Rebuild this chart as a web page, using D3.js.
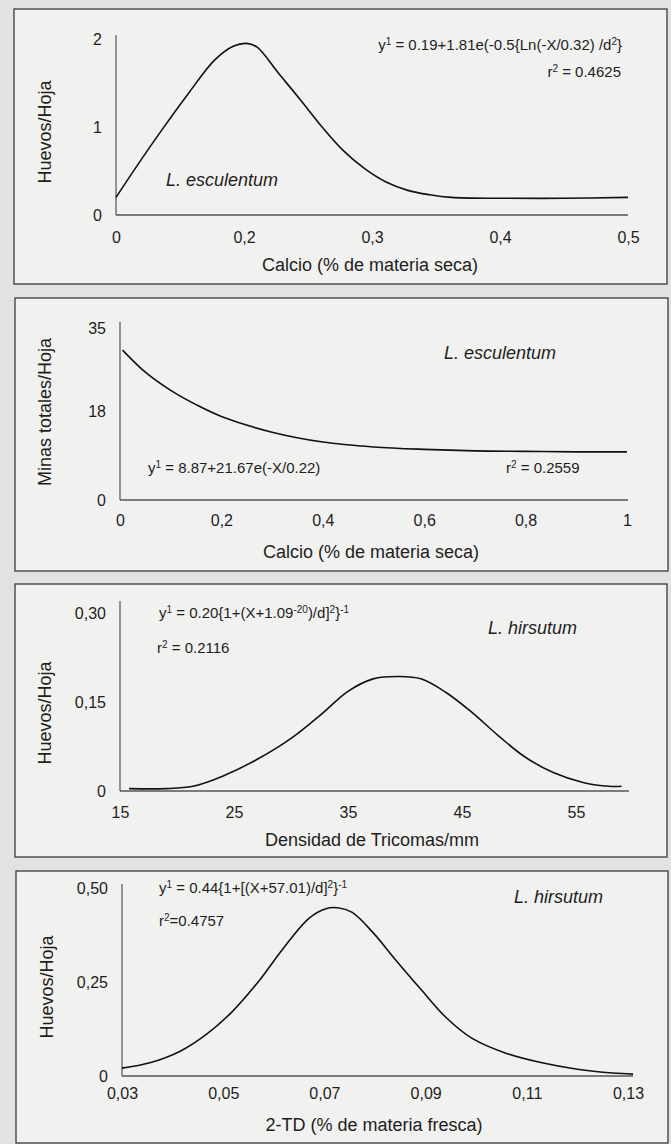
<!DOCTYPE html>
<html>
<head>
<meta charset="utf-8">
<script src="https://cdn.jsdelivr.net/npm/d3@7"></script>
<style>
  body { margin: 0; background: #e2e2e0; }
  svg { display: block; font-family: "Liberation Sans", Arial, sans-serif; }
</style>
</head>
<body>
<script>
// Panel 1: eggs per leaf vs calcium (L. esculentum)
const calcioX = [0.1, 0.116, 0.136, 0.157, 0.177, 0.192, 0.202, 0.21, 0.227, 0.244, 0.261, 0.277, 0.294, 0.311, 0.328, 0.345, 0.362, 0.4, 0.45, 0.5];
const huevosCaY = [0.2, 0.55, 0.97, 1.39, 1.76, 1.92, 1.95, 1.91, 1.61, 1.31, 1.0, 0.74, 0.53, 0.375, 0.28, 0.23, 0.2, 0.19, 0.19, 0.2];
const ticks1X = [0.1, 0.2, 0.3, 0.4, 0.5];
const labels1X = ["0", "0,2", "0,3", "0,4", "0,5"];
const ticks1Y = [0, 1, 2];

// Panel 2: total mines per leaf vs calcium (L. esculentum)
const calcio2X = [0.005, 0.05, 0.1, 0.15, 0.2, 0.3, 0.4, 0.5, 0.6, 0.7, 0.8, 0.9, 1.0];
const minasY = [30.5, 26.0, 22.3, 19.4, 17.0, 13.8, 11.8, 10.8, 10.3, 10.0, 9.9, 9.8, 9.8];
const ticks2X = [0, 0.2, 0.4, 0.6, 0.8, 1];
const labels2X = ["0", "0,2", "0,4", "0,6", "0,8", "1"];
const ticks2Y = [0, 18, 35];

// Panel 3: eggs per leaf vs trichome density (L. hirsutum)
const tricomasX = [15.8, 19, 21.4, 24, 27, 30.1, 32.7, 35, 37.2, 39.5, 41.4, 43.6, 45.9, 48.2, 50.4, 53, 55.7, 57.9, 59];
const huevosTrY = [0.004, 0.004, 0.008, 0.025, 0.053, 0.09, 0.13, 0.168, 0.189, 0.193, 0.189, 0.166, 0.132, 0.093, 0.059, 0.031, 0.014, 0.008, 0.008];
const ticks3X = [15, 25, 35, 45, 55];
const labels3X = ["15", "25", "35", "45", "55"];
const ticks3Y = [0, 0.15, 0.30];
const labels3Y = ["0", "0,15", "0,30"];

// Panel 4: eggs per leaf vs 2-TD (L. hirsutum)
const tdX = [0.03, 0.0355, 0.0415, 0.0466, 0.0517, 0.0569, 0.0619, 0.067, 0.0703, 0.0729, 0.0755, 0.0797, 0.084, 0.0891, 0.0941, 0.0992, 0.106, 0.113, 0.12, 0.127, 0.131];
const huevosTdY = [0.021, 0.035, 0.066, 0.11, 0.17, 0.25, 0.34, 0.42, 0.445, 0.447, 0.435, 0.38, 0.31, 0.23, 0.155, 0.10, 0.06, 0.035, 0.018, 0.008, 0.005];
const ticks4X = [0.03, 0.05, 0.07, 0.09, 0.11, 0.13];
const labels4X = ["0,03", "0,05", "0,07", "0,09", "0,11", "0,13"];
const ticks4Y = [0, 0.25, 0.50];
const labels4Y = ["0", "0,25", "0,50"];

const W = 671, H = 1144;
const svg = d3.select("body").append("svg").attr("width", W).attr("height", H);

// writes "a^{b}c" as text with raised tspans
function richText(sel, str) {
  const parts = str.split(/(\^\{[^}]*\})/);
  let raised = false;
  parts.forEach(p => {
    if (!p) return;
    if (p.startsWith("^{")) {
      sel.append("tspan").attr("dy", raised ? 0 : -5).attr("font-size", 10).text(p.slice(2, -1));
      raised = true;
    } else {
      sel.append("tspan").attr("dy", raised ? 5 : 0).text(p);
      raised = false;
    }
  });
}

const panels = [
  {
    box: [14, 9, 667, 284], xd: [0.1, 0.5], xr: [116, 628], yd: [0, 2], yr: [215, 39], yTop: 35, xEnd: 628,
    xs: calcioX, ys: huevosCaY, tx: ticks1X, tlx: labels1X, ty: ticks1Y, tly: ticks1Y.map(String), padX: 17,
    ylab: "Huevos/Hoja", ylabPos: [45, 132], xlab: "Calcio (% de materia seca)", xlabPos: [370, 265],
    species: "L. esculentum", spPos: [166, 180, "start"],
    eq: "y^{1} = 0.19+1.81e(-0.5{Ln(-X/0.32) /d^{2}}", eqPos: [622, 50, "end"],
    r2: "r^{2} = 0.4625", r2Pos: [621, 77, "end"]
  },
  {
    box: [15, 298, 668, 571], xd: [0, 1], xr: [120, 627], yd: [0, 35], yr: [500, 328], yTop: 322, xEnd: 628,
    xs: calcio2X, ys: minasY, tx: ticks2X, tlx: labels2X, ty: ticks2Y, tly: ticks2Y.map(String), padX: 15,
    ylab: "Minas totales/Hoja", ylabPos: [45, 412], xlab: "Calcio (% de materia seca)", xlabPos: [371, 552],
    species: "L. esculentum", spPos: [444, 353, "start"],
    eq: "y^{1} = 8.87+21.67e(-X/0.22)", eqPos: [148, 473, "start"],
    r2: "r^{2} = 0.2559", r2Pos: [506, 473, "start"]
  },
  {
    box: [15, 584, 667, 857], xd: [15, 55], xr: [120, 576], yd: [0, 0.30], yr: [791, 613], yTop: 601, xEnd: 629,
    xs: tricomasX, ys: huevosTrY, tx: ticks3X, tlx: labels3X, ty: ticks3Y, tly: labels3Y, padX: 16,
    ylab: "Huevos/Hoja", ylabPos: [45, 713], xlab: "Densidad de Tricomas/mm", xlabPos: [372, 840],
    species: "L. hirsutum", spPos: [488, 628, "start"],
    eq: "y^{1} = 0.20{1+(X+1.09^{-20})/d]^{2}}^{-1}", eqPos: [159, 618, "start"],
    r2: "r^{2} = 0.2116", r2Pos: [157, 653, "start"]
  },
  {
    box: [16, 871, 668, 1143], xd: [0.03, 0.13], xr: [122, 628], yd: [0, 0.5], yr: [1076, 888], yTop: 884, xEnd: 633,
    xs: tdX, ys: huevosTdY, tx: ticks4X, tlx: labels4X, ty: ticks4Y, tly: labels4Y, padX: 12,
    ylab: "Huevos/Hoja", ylabPos: [47, 987], xlab: "2-TD (% de materia fresca)", xlabPos: [374, 1125],
    species: "L. hirsutum", spPos: [514, 897, "start"],
    eq: "y^{1} = 0.44{1+[(X+57.01)/d]^{2}}^{-1}", eqPos: [159, 893, "start"],
    r2: "r^{2}=0.4757", r2Pos: [159, 926, "start"]
  }
];

panels.forEach(p => {
  const g = svg.append("g");
  const [bx0, by0, bx1, by1] = p.box;

  // frame
  g.append("rect")
    .attr("x", bx0).attr("y", by0)
    .attr("width", bx1 - bx0).attr("height", by1 - by0)
    .attr("fill", "#f1f1ef").attr("stroke", "#3a3a3a").attr("stroke-width", 1.3);

  const x = d3.scaleLinear().domain(p.xd).range(p.xr);
  const y = d3.scaleLinear().domain(p.yd).range(p.yr);

  // axis lines
  g.append("line")
    .attr("x1", x(p.xd[0])).attr("x2", x(p.xd[0]))
    .attr("y1", y(0)).attr("y2", p.yTop)
    .attr("stroke", "#444").attr("stroke-width", 1.1);
  g.append("line")
    .attr("x1", x(p.xd[0])).attr("x2", p.xEnd)
    .attr("y1", y(0)).attr("y2", y(0))
    .attr("stroke", "#555").attr("stroke-width", 1.4);

  // tick labels
  const xa = g.append("g")
    .attr("transform", `translate(0,${y(0)})`)
    .call(d3.axisBottom(x).tickValues(p.tx).tickSize(0).tickPadding(p.padX)
      .tickFormat((d, i) => p.tlx[i]));
  const ya = g.append("g")
    .attr("transform", `translate(${x(p.xd[0])},0)`)
    .call(d3.axisLeft(y).tickValues(p.ty).tickSize(0).tickPadding(14)
      .tickFormat((d, i) => p.tly[i]));
  [xa, ya].forEach(a => {
    a.select(".domain").remove();
    a.attr("font-family", null);
    a.selectAll("text").attr("font-size", 16).attr("fill", "#1e1e1e");
  });

  // fitted curve
  const pts = p.xs.map((d, i) => [d, p.ys[i]]);
  g.append("path")
    .datum(pts)
    .attr("fill", "none").attr("stroke", "#111").attr("stroke-width", 1.6)
    .attr("d", d3.line().x(d => x(d[0])).y(d => y(d[1])).curve(d3.curveCatmullRom.alpha(0.5)));

  // axis titles
  g.append("text")
    .attr("transform", `translate(${p.ylabPos[0]},${p.ylabPos[1]}) rotate(-90)`)
    .attr("text-anchor", "middle").attr("dy", "0.35em")
    .attr("font-size", 18).attr("fill", "#1e1e1e")
    .text(p.ylab);
  g.append("text")
    .attr("x", p.xlabPos[0]).attr("y", p.xlabPos[1]).attr("dy", "0.35em")
    .attr("text-anchor", "middle").attr("font-size", 18).attr("fill", "#1e1e1e")
    .text(p.xlab);

  // species name
  g.append("text")
    .attr("x", p.spPos[0]).attr("y", p.spPos[1]).attr("dy", "0.35em")
    .attr("text-anchor", p.spPos[2]).attr("font-size", 18).attr("font-style", "italic")
    .attr("fill", "#1e1e1e")
    .text(p.species);

  // equation and r2
  const eq = g.append("text")
    .attr("x", p.eqPos[0]).attr("y", p.eqPos[1]).attr("dy", "0.35em")
    .attr("text-anchor", p.eqPos[2]).attr("font-size", 15).attr("fill", "#1e1e1e");
  richText(eq, p.eq);
  const r2 = g.append("text")
    .attr("x", p.r2Pos[0]).attr("y", p.r2Pos[1]).attr("dy", "0.35em")
    .attr("text-anchor", p.r2Pos[2]).attr("font-size", 15).attr("fill", "#1e1e1e");
  richText(r2, p.r2);
});
</script>
</body>
</html>
